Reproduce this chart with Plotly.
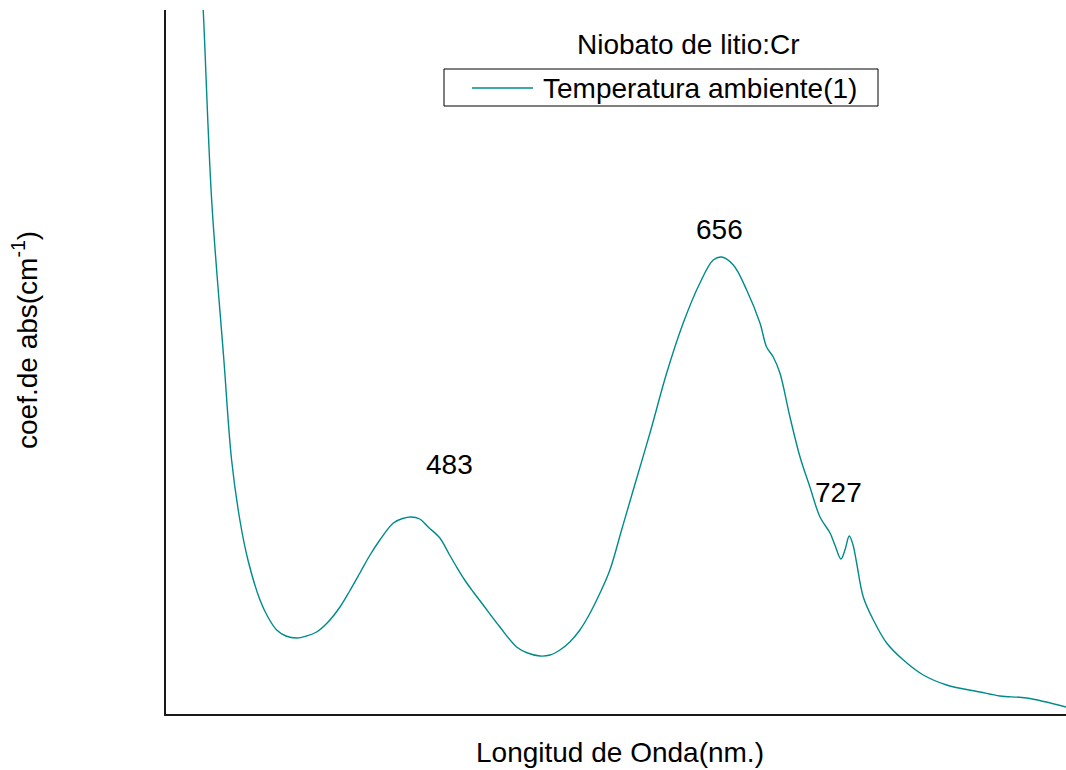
import plotly.graph_objects as go

# Absorption spectrum of Cr-doped lithium niobate at room temperature
wavelength_nm = [
    365.8, 367.5, 372.2, 379.0, 383.3, 387.9, 392.4, 399.1, 403.5, 408.4,
    413.5, 419.5, 425.0, 430.6, 437.0, 443.6, 449.0, 454.7, 460.0, 465.8,
    473.3, 478.5, 483.0, 488.0, 492.7, 499.2, 504.0, 508.5, 513.0, 517.8,
    523.3, 532.6, 541.9, 548.0, 554.9, 560.5, 566.0, 571.5, 577.1, 582.5,
    588.3, 593.8, 600.0, 606.8, 616.1, 625.4, 634.6, 643.9, 651.3, 656.0,
    662.5, 669.9, 677.3, 681.0, 684.7, 688.4, 694.0, 699.6, 705.1, 710.7,
    716.3, 719.0, 722.4, 724.6, 727.0, 729.1, 731.1, 734.8, 740.4, 747.8,
    757.1, 768.2, 781.2, 799.7, 810.9, 825.7, 847.6,
]
absorption = [
    7.56, 7.04, 5.14, 3.54, 2.54, 1.94, 1.54, 1.14, 0.97, 0.84,
    0.78, 0.76, 0.78, 0.82, 0.92, 1.07, 1.23, 1.41, 1.58, 1.74,
    1.91, 1.955, 1.97, 1.95, 1.87, 1.76, 1.61, 1.47, 1.34, 1.22,
    1.09, 0.87, 0.67, 0.61, 0.58, 0.59, 0.64, 0.72, 0.84, 1.00,
    1.21, 1.44, 1.82, 2.24, 2.81, 3.41, 3.91, 4.31, 4.54, 4.57,
    4.49, 4.24, 3.91, 3.67, 3.57, 3.41, 2.97, 2.57, 2.27, 1.97,
    1.81, 1.69, 1.55, 1.64, 1.78, 1.69, 1.51, 1.17, 0.94, 0.71,
    0.54, 0.39, 0.29, 0.22, 0.18, 0.16, 0.07,
]

# Band positions marked on the spectrum
band_nm = [483, 656, 727]
band_abs = [1.97, 4.57, 1.78]
band_shift = [(39, 53), (-2, 28), (-11, 44)]

series_name = "Temperatura ambiente(1)"
chart_title = "Niobato de litio:Cr"
x_title = "Longitud de Onda(nm.)"
y_title = "coef.de abs(cm<sup>-1</sup>)"

line_color = "#008b8b"
font_family = "Liberation Sans, Arial, sans-serif"
font_size = 28

fig = go.Figure()
fig.add_trace(go.Scatter(
    x=wavelength_nm, y=absorption, mode="lines", name=series_name,
    line=dict(color=line_color, width=1.4, shape="spline", smoothing=1.0),
    showlegend=False,
))

for nm, a, (dx, dy) in zip(band_nm, band_abs, band_shift):
    fig.add_annotation(x=nm, y=a, text=str(nm), showarrow=False,
                       xshift=dx, yshift=dy,
                       font=dict(size=font_size, color="black", family=font_family))

# Plot area spans pixels 166..1066 horizontally and 10..714 vertically
W0, W1, H0, H1 = 166, 1066, 10, 714


def px(x):
    return (x - W0) / (W1 - W0)


def py(y):
    return (H1 - y) / (H1 - H0)


# Title and boxed legend entry
fig.add_annotation(xref="paper", yref="paper", x=px(688), y=py(45),
                   text=chart_title, showarrow=False,
                   xanchor="center", yanchor="middle",
                   font=dict(size=font_size, color="black", family=font_family))
fig.add_shape(type="rect", xref="paper", yref="paper",
              x0=px(444), x1=px(878), y0=py(106), y1=py(69),
              line=dict(color="black", width=1), fillcolor="white")
fig.add_shape(type="line", xref="paper", yref="paper",
              x0=px(472), x1=px(533), y0=py(88), y1=py(88),
              line=dict(color=line_color, width=1.4))
fig.add_annotation(xref="paper", yref="paper", x=px(541), y=py(88),
                   text=series_name, showarrow=False,
                   xanchor="left", yanchor="middle",
                   font=dict(size=font_size, color="black", family=font_family))

# Axis titles
fig.add_annotation(xref="paper", yref="paper", x=px(620), y=py(752),
                   text=x_title, showarrow=False,
                   xanchor="center", yanchor="middle",
                   font=dict(size=font_size, color="black", family=font_family))
fig.add_annotation(xref="paper", yref="paper", x=px(25), y=py(340),
                   text=y_title, showarrow=False, textangle=-90,
                   xanchor="center", yanchor="middle",
                   font=dict(size=font_size, color="black", family=font_family))

fig.update_xaxes(range=[346.8, 847.6], showline=True, linecolor="#1a1a1a",
                 linewidth=2, showgrid=False, zeroline=False,
                 showticklabels=False, ticks="")
fig.update_yaxes(range=[0, 7.04], showline=True, linecolor="#1a1a1a",
                 linewidth=2, showgrid=False, zeroline=False,
                 showticklabels=False, ticks="")

fig.update_layout(
    width=1066, height=770,
    margin=dict(l=W0, r=0, t=H0, b=770 - H1),
    paper_bgcolor="white", plot_bgcolor="white",
    font=dict(family=font_family, color="black"),
)

fig.write_html("out.html")
